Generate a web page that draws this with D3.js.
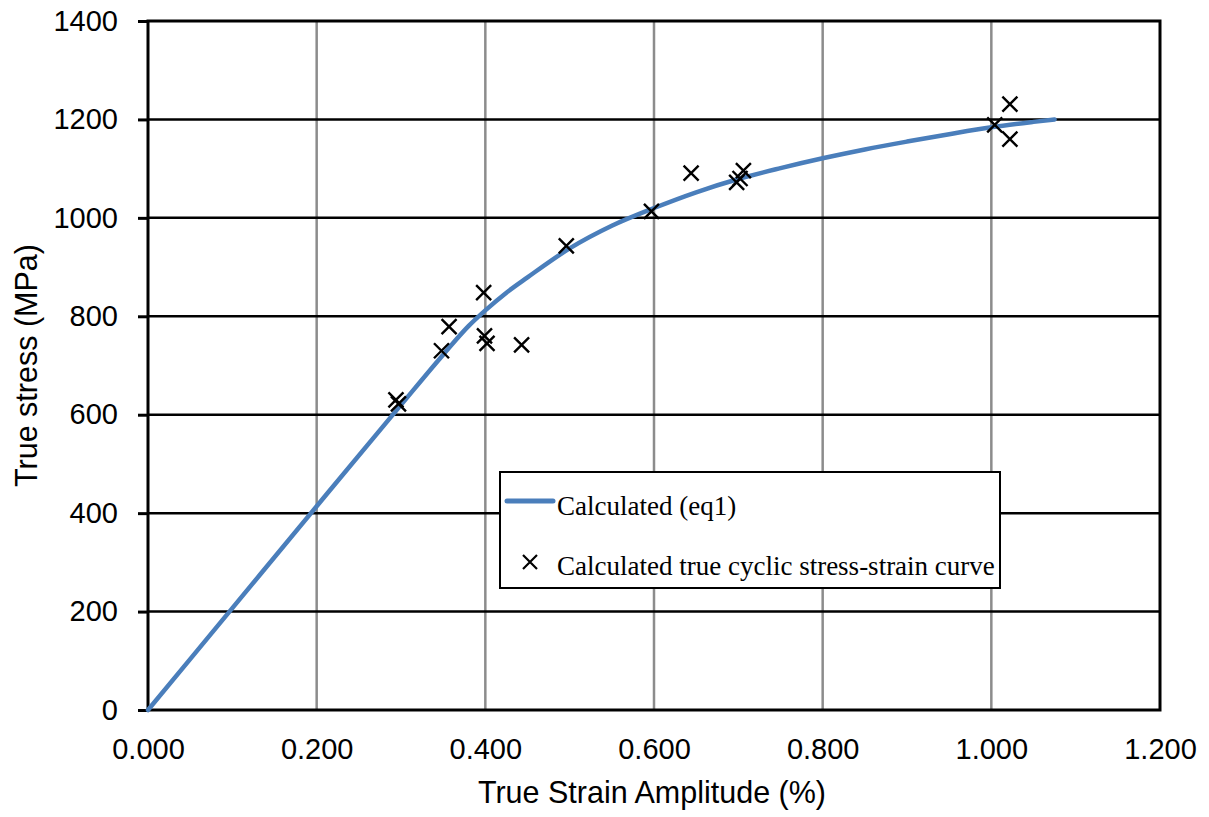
<!DOCTYPE html>
<html>
<head>
<meta charset="utf-8">
<script src="https://cdn.jsdelivr.net/npm/d3@7"></script>
<style>
  html, body { margin: 0; padding: 0; background: #ffffff; }
  svg { display: block; }
</style>
</head>
<body>
<div id="chart"></div>
<script>
// ---- Data ----
const curveStrain = [0, 0.1, 0.2, 0.3, 0.35, 0.38, 0.4, 0.425, 0.45, 0.5, 0.55, 0.6, 0.65, 0.7, 0.75, 0.8, 0.85, 0.9, 0.95, 1.0, 1.05, 1.075];
const curveStress = [0, 207, 414, 620, 722, 780, 812, 848, 879, 938, 984, 1020, 1052, 1079, 1101, 1121, 1139, 1155, 1170, 1184, 1195, 1200];

const pointStrain = [0.294, 0.297, 0.348, 0.357, 0.398, 0.399, 0.402, 0.443, 0.496, 0.597, 0.644, 0.698, 0.702, 0.706, 1.004, 1.022, 1.022];
const pointStress = [630, 622, 730, 779, 848, 760, 745, 742, 943, 1013, 1091, 1072, 1080, 1096, 1189, 1231, 1160];

const xTicks = [0, 0.2, 0.4, 0.6, 0.8, 1.0, 1.2];
const yTicks = [0, 200, 400, 600, 800, 1000, 1200, 1400];

const seriesNames = ["Calculated (eq1)", "Calculated true cyclic stress-strain curve"];
const xTitle = "True Strain Amplitude (%)";
const yTitle = "True stress (MPa)";

// ---- Layout ----
const W = 1209, H = 817;
const L = 148, R = 1160, T = 21, B = 710;

const svg = d3.select("#chart").append("svg").attr("width", W).attr("height", H);

const x = d3.scaleLinear().domain([0, 1.2]).range([L, R]);
const y = d3.scaleLinear().domain([0, 1400]).range([B, T]);

const blue = "#4a7ebb";
const sansFont = "Arial, 'Liberation Sans', sans-serif";
const serifFont = "'Times New Roman', 'Liberation Serif', serif";

// vertical gridlines (gray)
svg.append("g").selectAll("line").data(xTicks.slice(1, -1)).join("line")
  .attr("x1", d => x(d)).attr("x2", d => x(d))
  .attr("y1", T).attr("y2", B)
  .attr("stroke", "#8c8c8c").attr("stroke-width", 2.5);

// horizontal gridlines (black)
svg.append("g").selectAll("line").data(yTicks.slice(1, -1)).join("line")
  .attr("x1", L).attr("x2", R)
  .attr("y1", d => y(d)).attr("y2", d => y(d))
  .attr("stroke", "#000").attr("stroke-width", 2.5);

// plot border
svg.append("rect").attr("x", L).attr("y", T).attr("width", R - L).attr("height", B - T)
  .attr("fill", "none").attr("stroke", "#000").attr("stroke-width", 3);

// y axis
const yAxis = d3.axisLeft(y).tickValues(yTicks).tickFormat(d3.format("d")).tickSizeInner(10).tickSizeOuter(0).tickPadding(20);
const gy = svg.append("g").attr("transform", `translate(${L},0)`).call(yAxis);
gy.select(".domain").remove();
gy.selectAll(".tick line").attr("stroke", "#000").attr("stroke-width", 3);
gy.selectAll(".tick text").attr("font-family", sansFont).attr("font-size", 29).attr("fill", "#000");

// x axis
const xAxis = d3.axisBottom(x).tickValues(xTicks).tickFormat(d3.format(".3f")).tickSize(0).tickPadding(28);
const gx = svg.append("g").attr("transform", `translate(0,${B})`).call(xAxis);
gx.select(".domain").remove();
gx.selectAll(".tick text").attr("font-family", sansFont).attr("font-size", 29).attr("fill", "#000");

// axis titles
svg.append("text").attr("x", (L + R) / 2 - 2).attr("y", 803)
  .attr("text-anchor", "middle").attr("font-family", sansFont).attr("font-size", 30.5).attr("fill", "#000")
  .text(xTitle);
svg.append("text").attr("transform", `translate(37,${(T + B) / 2}) rotate(-90)`)
  .attr("text-anchor", "middle").attr("font-family", sansFont).attr("font-size", 30.5).attr("fill", "#000")
  .text(yTitle);

// curve
const curveData = curveStrain.map((s, i) => [s, curveStress[i]]);
const line = d3.line().x(d => x(d[0])).y(d => y(d[1])).curve(d3.curveMonotoneX);
svg.append("path").datum(curveData).attr("d", line)
  .attr("fill", "none").attr("stroke", blue).attr("stroke-width", 4.5).attr("stroke-linecap", "round");

// markers
const pts = pointStrain.map((s, i) => [s, pointStress[i]]);
const m = 7.5;
const mg = svg.append("g");
pts.forEach(d => {
  const cx = x(d[0]), cy = y(d[1]);
  mg.append("path")
    .attr("d", `M${cx - m},${cy - m}L${cx + m},${cy + m}M${cx - m},${cy + m}L${cx + m},${cy - m}`)
    .attr("stroke", "#000").attr("stroke-width", 2.4).attr("fill", "none");
});

// legend
const lg = svg.append("g");
lg.append("rect").attr("x", 500).attr("y", 472).attr("width", 500).attr("height", 116)
  .attr("fill", "#fff").attr("stroke", "#000").attr("stroke-width", 2);
lg.append("line").attr("x1", 507).attr("x2", 553).attr("y1", 501).attr("y2", 501)
  .attr("stroke", blue).attr("stroke-width", 5).attr("stroke-linecap", "round");
lg.append("text").attr("x", 557).attr("y", 515).attr("font-family", serifFont).attr("font-size", 27).attr("fill", "#000")
  .text(seriesNames[0]);
const lx = 530, ly = 562, lm = 7;
lg.append("path").attr("d", `M${lx - lm},${ly - lm}L${lx + lm},${ly + lm}M${lx - lm},${ly + lm}L${lx + lm},${ly - lm}`)
  .attr("stroke", "#000").attr("stroke-width", 2.2).attr("fill", "none");
lg.append("text").attr("x", 557).attr("y", 575).attr("font-family", serifFont).attr("font-size", 27).attr("fill", "#000")
  .text(seriesNames[1]);
</script>
</body>
</html>
